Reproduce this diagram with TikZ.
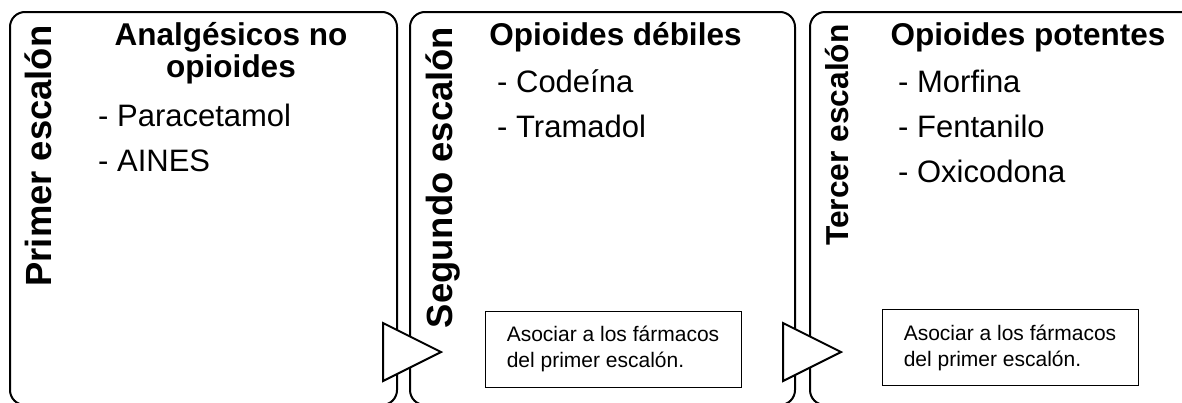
\documentclass[tikz,border=0pt]{standalone}
\usepackage{fontspec}
\setmainfont{Liberation Sans}
\begin{document}
\begin{tikzpicture}[x=1pt,y=-1pt,
  panel/.style={draw, line width=2pt, rounded corners=15pt, minimum height=393pt, inner sep=0pt},
  vlabel/.style={rotate=90, anchor=base, inner sep=0pt, font=\fontsize{36.4}{40}\selectfont\bfseries},
  head/.style={anchor=base, inner sep=0pt, font=\fontsize{31.5}{33}\selectfont\bfseries},
  item/.style={anchor=base west, inner sep=0pt, font=\fontsize{31}{36}\selectfont},
  note/.style={draw, line width=1pt, minimum width=256pt, minimum height=76pt, inner sep=0pt, align=left, font=\fontsize{21}{26}\selectfont},
  arrowtri/.style={draw, fill=white, line width=2pt, line join=miter}]
\useasboundingbox (0,0) rectangle (1182,402);
\clip (0,0) rectangle (1182,402);
% panels
\node[panel, minimum width=387pt] (p1) at (203.5,208.5) {};
\node[panel, minimum width=385pt] (p2) at (602.5,208.5) {};
\node[panel, minimum width=385pt] (p3) at (1002.5,208.5) {};
% vertical labels
\node[vlabel] (v1) at (51,156) {Primer escalón};
\node[vlabel] (v2) at (452,177.5) {Segundo escalón};
\node[vlabel, font=\fontsize{31.7}{35}\selectfont\bfseries] (v3) at (848,135) {Tercer escalón};
% headers
\node[head] (h1a) at (231,45) {Analgésicos no};
\node[head] (h1b) at (231,77) {opioides};
\node[head] (h2) at (615.5,45) {Opioides débiles};
\node[head] (h3) at (1028,45) {Opioides potentes};
% items
\node[item] (i11) at (98,126) {- Paracetamol};
\node[item] (i12) at (98,171) {- AINES};
\node[item] (i21) at (497,92) {- Codeína};
\node[item] (i22) at (497,137) {- Tramadol};
\node[item] (i31) at (898,92) {- Morfina};
\node[item] (i32) at (898,137) {- Fentanilo};
\node[item] (i33) at (898,182) {- Oxicodona};
% notes
\node[note] (n2) at (613,349) {Asociar a los fármacos\\del primer escalón.};
\node[note] (n3) at (1010,347.5) {Asociar a los fármacos\\del primer escalón.};
% transition arrows
\draw[arrowtri] (383,323) -- (441,352) -- (383,381) -- cycle;
\draw[arrowtri] (783,323) -- (841,352) -- (783,381) -- cycle;
\end{tikzpicture}
\end{document}
